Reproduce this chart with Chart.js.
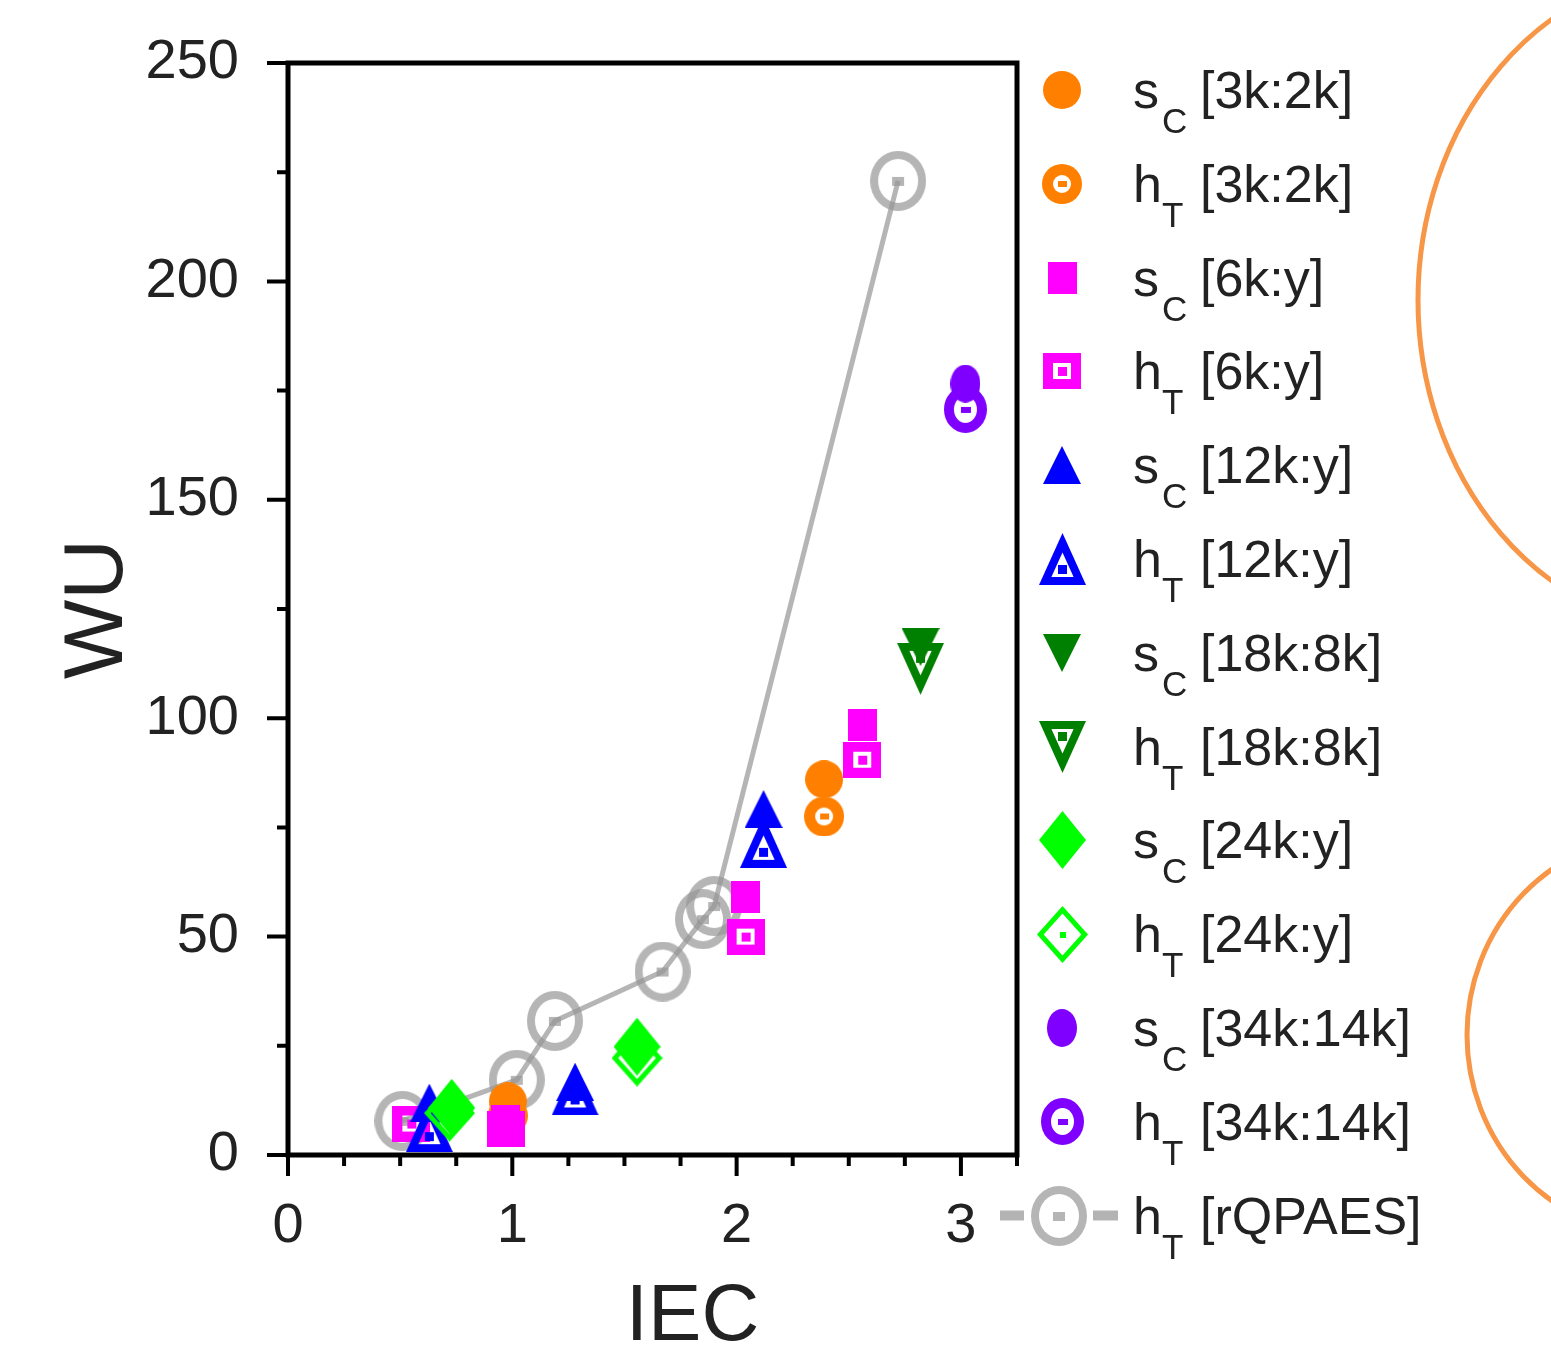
<!DOCTYPE html>
<html>
<head>
<meta charset="utf-8">
<title>WU vs IEC</title>
<script src="https://cdn.jsdelivr.net/npm/chart.js@4.4.1/dist/chart.umd.min.js"></script>
<style>
  html, body { margin: 0; padding: 0; background: #fff; }
  #wrap { width: 1551px; height: 1354px; }
</style>
</head>
<body>
<div id="wrap"><canvas id="myChart" width="1551" height="1354"></canvas></div>
<script>
// legend labels: letter _ subscript, then the bracket part
var seriesNames = [
  "s_C [3k:2k]", "h_T [3k:2k]", "s_C [6k:y]", "h_T [6k:y]",
  "s_C [12k:y]", "h_T [12k:y]", "s_C [18k:8k]", "h_T [18k:8k]",
  "s_C [24k:y]", "h_T [24k:y]", "s_C [34k:14k]", "h_T [34k:14k]",
  "h_T [rQPAES]"
];

// IEC (x) and WU (y) for every series
var sC3kIec = [0.98, 2.39];            var sC3kWu = [12.3, 86];
var hT3kIec = [0.98, 2.39];            var hT3kWu = [9, 77.5];
var sC6kIec = [0.97, 2.04, 2.56];      var sC6kWu = [7.8, 59, 98.5];
var hT6kIec = [0.55, 0.97, 2.04, 2.56]; var hT6kWu = [7.2, 6, 50, 90.5];
var sC12kIec = [0.63, 1.28, 2.12];     var sC12kWu = [12, 16.7, 79.2];
var hT12kIec = [0.63, 1.28, 2.12];     var hT12kWu = [6.6, 15, 71.7];
var sC18kIec = [2.82];                 var sC18kWu = [116.3];
var hT18kIec = [2.82];                 var hT18kWu = [111.3];
var sC24kIec = [0.73, 1.556];          var sC24kWu = [10.8, 24.8];
var hT24kIec = [0.72, 1.556];          var hT24kWu = [9.6, 22.2];
var sC34kIec = [3.02];                 var sC34kWu = [176.6];
var hT34kIec = [3.02];                 var hT34kWu = [170.7];
var rqIec = [0.51, 1.02, 1.19, 1.67, 1.85, 1.90, 2.72];
var rqWu = [7.8, 17.2, 30.7, 42, 54, 57, 223];

var iecTicks = [0, 1, 2, 3];
var wuTicks = [0, 50, 100, 150, 200, 250];

var xSeries = [sC3kIec, hT3kIec, sC6kIec, hT6kIec, sC12kIec, hT12kIec, sC18kIec, hT18kIec, sC24kIec, hT24kIec, sC34kIec, hT34kIec, rqIec];
var ySeries = [sC3kWu, hT3kWu, sC6kWu, hT6kWu, sC12kWu, hT12kWu, sC18kWu, hT18kWu, sC24kWu, hT24kWu, sC34kWu, hT34kWu, rqWu];

// styles
var seriesColors = ["#FF8000", "#FF8000", "#FF00FF", "#FF00FF", "#0000FF", "#0000FF",
  "#008000", "#008000", "#00FF00", "#00FF00", "#8000FF", "#8000FF", "rgba(150,150,150,0.7)"];
var seriesShapes = ["circle", "circle", "square", "square", "triangle", "triangle",
  "triangleDown", "triangleDown", "diamond", "diamond", "oval", "oval", "ring"];
var seriesHollow = [false, true, false, true, false, true, false, true, false, true, false, true, true];

// [w, h, ring thickness, dot w, dot h]
var markerSizes = {
  circle: [[38, 38], [40, 40, 11, 9, 6]],
  square: [[29, 32], [38, 36, 10, 9, 9]],
  triangle: [[38, 38], [47, 52, 8, 9, 9]],
  triangleDown: [[38, 38], [47, 52, 8, 9, 9]],
  diamond: [[47, 58], [51, 57, 5, 6, 6]],
  oval: [[30, 38], [43, 47, 10, 10, 6]],
  ring: [[56, 60], [56, 60, 8, 12, 9]]
};

var font = "'Liberation Sans', Arial, sans-serif";
var textColor = "#222";

function polyPath(g, pts) {
  g.beginPath();
  g.moveTo(pts[0][0], pts[0][1]);
  for (var i = 1; i < pts.length; i++) g.lineTo(pts[i][0], pts[i][1]);
  g.closePath();
}

// returns the centre of the dot
function shapePath(g, shape, w, h, inset) {
  var cx = w / 2, cy = h / 2, pts, r, k, s;
  if (shape === "circle" || shape === "oval" || shape === "ring") {
    g.beginPath();
    g.ellipse(cx, cy, w / 2 - inset, h / 2 - inset, 0, 0, Math.PI * 2);
    return [cx, cy];
  }
  if (shape === "square") {
    g.beginPath();
    g.rect(inset, inset, w - 2 * inset, h - 2 * inset);
    return [cx, cy];
  }
  if (shape === "triangle" || shape === "triangleDown") {
    s = Math.sqrt((w / 2) * (w / 2) + h * h);
    r = w * h / (w + 2 * s);
    var ic = shape === "triangle" ? [cx, h - r] : [cx, r];
    pts = shape === "triangle" ? [[cx, 0], [w, h], [0, h]] : [[0, 0], [w, 0], [cx, h]];
    k = (r - inset) / r;
    polyPath(g, pts.map(function (p) { return [ic[0] + (p[0] - ic[0]) * k, ic[1] + (p[1] - ic[1]) * k]; }));
    return ic;
  }
  // diamond
  var a = w / 2, b = h / 2;
  r = a * b / Math.sqrt(a * a + b * b);
  k = (r - inset) / r;
  pts = [[cx, 0], [w, cy], [cx, h], [0, cy]];
  polyPath(g, pts.map(function (p) { return [cx + (p[0] - cx) * k, cy + (p[1] - cy) * k]; }));
  return [cx, cy];
}

function makeMarker(shape, color, hollow) {
  var sz = markerSizes[shape][hollow ? 1 : 0];
  var w = sz[0], h = sz[1];
  var c = document.createElement("canvas");
  c.width = w; c.height = h;
  var g = c.getContext("2d");
  g.fillStyle = color;
  shapePath(g, shape, w, h, 0);
  g.fill();
  if (hollow) {
    g.globalCompositeOperation = "destination-out";
    g.fillStyle = "#000";
    var dc = shapePath(g, shape, w, h, sz[2]);
    g.fill();
    g.globalCompositeOperation = "source-over";
    g.fillStyle = color;
    g.fillRect(Math.round(dc[0] - sz[3] / 2), Math.round(dc[1] - sz[4] / 2), sz[3], sz[4]);
  }
  return c;
}

var sprites = seriesShapes.map(function (sh, i) { return makeMarker(sh, seriesColors[i], seriesHollow[i]); });

var datasets = seriesNames.map(function (name, i) {
  var last = i === seriesNames.length - 1;
  // later pairs on top; inside a pair the filled one above the hollow one
  var rank = Math.floor(i / 2) * 2 + (i % 2 === 0 ? 1 : 0);
  return {
    label: name,
    data: xSeries[i].map(function (x, j) { return { x: x, y: ySeries[i][j] }; }),
    pointStyle: sprites[i],
    pointRadius: 20,
    showLine: last,
    borderColor: seriesColors[i],
    borderWidth: 5,
    backgroundColor: seriesColors[i],
    order: last ? 200 : 100 - rank
  };
});

var decor = {
  id: "decor",
  afterDraw: function (chart) {
    var ctx = chart.ctx, a = chart.chartArea, xs = chart.scales.x, ys = chart.scales.y;
    var v, p, len;
    ctx.save();

    // frame
    ctx.strokeStyle = "#000";
    ctx.lineWidth = 5;
    ctx.strokeRect(a.left, a.top, a.right - a.left, a.bottom - a.top);

    // ticks, outward
    ctx.lineWidth = 4;
    ctx.beginPath();
    for (v = 0; v <= xs.max + 1e-9; v += 0.25) {
      p = xs.getPixelForValue(v);
      len = Math.abs(v - Math.round(v)) < 1e-6 ? 21 : 11;
      ctx.moveTo(p, a.bottom);
      ctx.lineTo(p, a.bottom + len);
    }
    for (v = 0; v <= ys.max + 1e-9; v += 25) {
      p = ys.getPixelForValue(v);
      len = v % 50 === 0 ? 21 : 11;
      ctx.moveTo(a.left, p);
      ctx.lineTo(a.left - len, p);
    }
    ctx.stroke();

    // axis titles
    ctx.fillStyle = textColor;
    ctx.font = "84px " + font;
    ctx.textAlign = "center";
    ctx.textBaseline = "alphabetic";
    ctx.save();
    ctx.translate(122, (a.top + a.bottom) / 2);
    ctx.rotate(-Math.PI / 2);
    ctx.fillText("WU", 0, 0);
    ctx.restore();
    ctx.font = "80px " + font;
    ctx.fillText("IEC", (a.left + a.right) / 2 + 40, 1340);

    // legend
    ctx.textAlign = "left";
    seriesNames.forEach(function (name, i) {
      var y = 90 + i * 93.8;
      var mx = 1062;
      if (i === seriesNames.length - 1) {
        ctx.strokeStyle = "#B3B3B3";
        ctx.lineWidth = 10;
        ctx.beginPath();
        ctx.moveTo(1000, y); ctx.lineTo(1024, y);
        ctx.moveTo(1093, y); ctx.lineTo(1118, y);
        ctx.stroke();
        mx = 1059;
      }
      var sp = sprites[i];
      ctx.drawImage(sp, Math.round(mx - sp.width / 2), Math.round(y - sp.height / 2));
      var m = name.match(/^(\S)_(\S) (.*)$/);
      ctx.fillStyle = textColor;
      ctx.font = "52px " + font;
      ctx.fillText(m[1], 1133, y + 18);
      ctx.fillText(m[3], 1200, y + 18);
      ctx.font = "35px " + font;
      ctx.fillText(m[2], 1162, y + 43);
    });

    // arcs of the neighbouring panel
    ctx.strokeStyle = "#F79646";
    ctx.lineWidth = 5;
    ctx.beginPath();
    ctx.ellipse(1418 + 282, 300, 282, 330, 0, 0, Math.PI * 2);
    ctx.stroke();
    ctx.beginPath();
    ctx.ellipse(1467 + 193, 1035, 193, 200, 0, 0, Math.PI * 2);
    ctx.stroke();

    ctx.restore();
  }
};

var ctx = document.getElementById("myChart");
var myChart = new Chart(ctx, {
  type: "scatter",
  data: { datasets: datasets },
  options: {
    responsive: false,
    animation: false,
    layout: { padding: { top: 63, right: 534, left: 0, bottom: 0 } },
    plugins: { legend: { display: false }, tooltip: { enabled: false } },
    scales: {
      x: {
        type: "linear",
        min: 0,
        max: 3.25,
        afterBuildTicks: function (scale) { scale.ticks = iecTicks.map(function (v) { return { value: v }; }); },
        afterFit: function (scale) { scale.height = 199; scale.paddingLeft = 0; scale.paddingRight = 0; },
        grid: { display: false },
        border: { display: false },
        ticks: { font: { family: font, size: 56 }, color: textColor, padding: 30, maxRotation: 0 }
      },
      y: {
        type: "linear",
        min: 0,
        max: 250,
        afterBuildTicks: function (scale) { scale.ticks = wuTicks.map(function (v) { return { value: v }; }); },
        afterFit: function (scale) { scale.width = 288; scale.paddingTop = 0; scale.paddingBottom = 0; },
        grid: { display: false },
        border: { display: false },
        ticks: { font: { family: font, size: 56 }, color: textColor, padding: 41 }
      }
    }
  },
  plugins: [decor]
});
</script>
</body>
</html>
